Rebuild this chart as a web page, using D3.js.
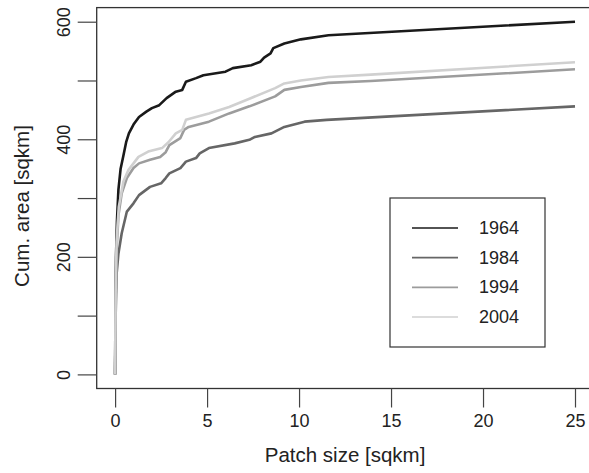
<!DOCTYPE html>
<html>
<head>
<meta charset="utf-8">
<script src="https://cdn.jsdelivr.net/npm/d3@7"></script>
<style>
  body { margin: 0; background: #fff; }
  svg { display: block; font-family: "Liberation Sans", Arial, sans-serif; }
</style>
</head>
<body>
<svg class="chart"></svg>
<script>
// cumulative area [sqkm] vs patch size [sqkm]
const years = ['1964', '1984', '1994', '2004'];
const lineColors = ['#1a1a1a', '#666666', '#9c9c9c', '#d0d0d0'];

const cum1964 = [[0,0],[0.02,120],[0.05,200],[0.1,260],[0.18,314],[0.3,350],[0.45,372],[0.6,395],
  [0.75,410],[1.0,425],[1.3,438],[1.7,447],[2.0,453],[2.4,458],[2.8,470],[3.3,481],[3.65,484],
  [3.85,498],[4.4,504],[4.8,509],[6.0,515],[6.4,521],[7.4,526],[7.9,532],[8.1,539],[8.45,546],
  [8.6,555],[9.2,563],[10.1,570],[11.6,577],[25,600]];
const cum1984 = [[0,0],[0.03,100],[0.08,170],[0.18,205],[0.36,240],[0.64,277],[1.0,291],[1.3,305],
  [1.9,319],[2.5,325],[2.75,334],[2.95,342],[3.55,351],[3.85,362],[4.4,368],[4.6,376],[5.1,385],
  [6.5,393],[7.3,399],[7.6,404],[8.5,410],[9.2,421],[10.3,430],[11.5,433],[25,456]];
const cum1994 = [[0,0],[0.03,130],[0.08,210],[0.18,270],[0.36,308],[0.64,334],[1.0,351],[1.3,359],
  [1.9,365],[2.45,370],[2.75,378],[2.95,390],[3.55,402],[3.75,416],[4.0,421],[5.1,430],[6.2,444],
  [7.3,456],[8.7,473],[9.2,484],[10.1,489],[11.6,496],[13.9,499],[25,519]];
const cum2004 = [[0,0],[0.03,140],[0.08,225],[0.2,285],[0.45,328],[0.73,348],[1.27,370],[1.8,379],
  [2.55,385],[2.9,395],[3.3,410],[3.65,416],[3.85,433],[5.1,444],[6.2,455],[7.3,469],[8.7,487],
  [9.2,495],[10.1,500],[11.6,506],[13.9,510],[25,531]];
const allSeries = [cum1964, cum1984, cum1994, cum2004];

const xTicks = [0, 5, 10, 15, 20, 25];
const yTicks = [0, 100, 200, 300, 400, 500, 600];
const yLabelled = [0, 200, 400, 600];

const W = 589, H = 473;
const svg = d3.select('.chart').attr('width', W).attr('height', H);

const x = d3.scaleLinear().domain([-1, 26]).range([96.7, 593.4]);
const y = d3.scaleLinear().domain([-24, 624]).range([388.5, 7.6]);

svg.append('clipPath').attr('id', 'plotclip')
  .append('rect')
  .attr('x', x(-1)).attr('y', y(624))
  .attr('width', x(26) - x(-1)).attr('height', y(-24) - y(624));

// series lines
const line = d3.line().x(d => x(d[0])).y(d => y(d[1]));
svg.append('g').attr('clip-path', 'url(#plotclip)')
  .selectAll('path')
  .data(allSeries)
  .enter().append('path')
  .attr('d', line)
  .style('fill', 'none')
  .style('stroke', (d, i) => lineColors[i])
  .style('stroke-width', 2.6)
  .style('stroke-linejoin', 'round');

// box
svg.append('rect')
  .attr('x', x(-1)).attr('y', y(624))
  .attr('width', x(26) - x(-1)).attr('height', y(-24) - y(624))
  .style('fill', 'none').style('stroke', '#333').style('stroke-width', 1.3);

// x axis
const gx = svg.append('g')
  .attr('transform', `translate(0,${y(-24)})`)
  .call(d3.axisBottom(x).tickValues(xTicks).tickSize(19).tickPadding(7).tickFormat(d3.format('d')));
gx.select('.domain').remove();
gx.selectAll('line').style('stroke', '#444').style('stroke-width', 1.2);
gx.selectAll('text').style('font-size', '18px').style('fill', '#222')
  .attr('font-family', null);

// y axis
const gy = svg.append('g')
  .attr('transform', `translate(${x(-1)},0)`)
  .call(d3.axisLeft(y).tickValues(yTicks).tickSize(19).tickFormat(d => yLabelled.includes(d) ? d : ''));
gy.select('.domain').remove();
gy.selectAll('line').style('stroke', '#444').style('stroke-width', 1.2);
gy.selectAll('text')
  .attr('x', null).attr('dy', null)
  .attr('transform', 'translate(-33,0) rotate(-90)')
  .attr('text-anchor', 'middle')
  .attr('dominant-baseline', 'central')
  .style('font-size', '18px').style('fill', '#222');

// axis titles
svg.append('text')
  .attr('x', (x(-1) + x(26)) / 2).attr('y', 462)
  .attr('text-anchor', 'middle')
  .style('font-size', '20.5px').style('fill', '#222')
  .text('Patch size [sqkm]');

svg.append('text')
  .attr('transform', 'translate(21,206) rotate(-90)')
  .attr('text-anchor', 'middle')
  .attr('dominant-baseline', 'central')
  .style('font-size', '20.5px').style('fill', '#222')
  .text('Cum. area [sqkm]');

// legend
const legend = svg.append('g').attr('class', 'legend');
legend.append('rect')
  .attr('x', 390).attr('y', 198).attr('width', 155).attr('height', 149)
  .style('fill', '#fff').style('stroke', '#333').style('stroke-width', 1.2);

const rowY = d3.scalePoint().domain(years).range([228, 317]);
legend.selectAll('line.key')
  .data(years)
  .enter().append('line')
  .attr('class', 'key')
  .attr('x1', 412).attr('x2', 458)
  .attr('y1', d => rowY(d)).attr('y2', d => rowY(d))
  .style('stroke', (d, i) => lineColors[i])
  .style('stroke-width', 1.6);

legend.selectAll('text')
  .data(years)
  .enter().append('text')
  .attr('x', 479)
  .attr('y', d => rowY(d))
  .attr('dominant-baseline', 'central')
  .style('font-size', '18px').style('fill', '#222')
  .text(d => d);
</script>
</body>
</html>
